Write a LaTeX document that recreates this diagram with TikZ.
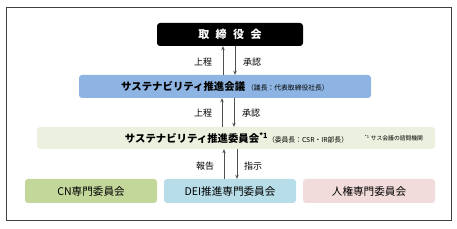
\documentclass[tikz,border=0pt]{standalone}
\usepackage{fontspec}
\setmainfont{Noto Sans CJK JP}
\usetikzlibrary{arrows.meta}
\definecolor{boardc}{RGB}{0,0,0}
\definecolor{bluec}{RGB}{141,180,226}
\definecolor{lgreenc}{RGB}{235,241,222}
\definecolor{cnc}{RGB}{196,215,155}
\definecolor{deic}{RGB}{183,221,232}
\definecolor{jinc}{RGB}{242,220,219}
\definecolor{framec}{RGB}{64,64,64}
\definecolor{arrc}{RGB}{80,80,80}
\tikzset{
  box/.style={rounded corners=3pt, inner sep=0pt, align=center},
  conn/.style={draw=arrc, line width=0.9pt, -{Stealth[length=4pt,width=3.5pt]}},
  lab/.style={font=\fontsize{9}{9}\selectfont, inner sep=0pt},
}
\begin{document}
\begin{tikzpicture}[x=1pt,y=-1pt]
\useasboundingbox (0,0) rectangle (457,229);
\node[draw=framec, line width=1.3pt, minimum width=445pt, minimum height=213pt, inner sep=0pt] (frame) at (229,114) {};
% boxes
\node[box, fill=boardc, text=white, minimum width=146pt, minimum height=23pt, font=\fontsize{11}{11}\selectfont\bfseries] (board) at (230,34.5) {取\hspace{6.5pt}締\hspace{6.5pt}役\hspace{6.5pt}会};
\node[box, fill=bluec, minimum width=292pt, minimum height=23pt] (blue) at (225,86.5)
  {{\fontsize{10.4}{10.4}\selectfont\bfseries サステナビリティ推進会議}\hspace{2pt}{\fontsize{6.8}{6.8}\selectfont （議長：代表取締役社長）}};
\node[box, fill=lgreenc, minimum width=398pt, minimum height=22pt] (green) at (236,138) {};
\node[inner sep=0pt] (gtext) at (236.5,138)
  {{\fontsize{10.4}{10.4}\selectfont\bfseries サステナビリティ推進委員会\textsuperscript{*1}}{\fontsize{6.8}{6.8}\selectfont （委員長：CSR・IR部長）}};
\node[inner sep=0pt, font=\fontsize{5.8}{5.8}\selectfont] (foot) at (394,138) {\textsuperscript{*1} サス会議の諮問機関};
\node[box, fill=cnc, minimum width=132pt, minimum height=24pt, font=\fontsize{10.6}{10.6}\selectfont] (cn) at (91,191) {CN専門委員会};
\node[box, fill=deic, minimum width=132pt, minimum height=24pt, font=\fontsize{10.6}{10.6}\selectfont] (dei) at (230,191) {DEI推進専門委員会};
\node[box, fill=jinc, minimum width=132pt, minimum height=24pt, font=\fontsize{10.6}{10.6}\selectfont] (jin) at (369,191) {人権専門委員会};
% arrows
\draw[conn] ([xshift=-2pt]blue.north) -- ([xshift=-2pt]blue.north |- board.south);
\draw[conn] ([xshift=10pt]blue.north |- board.south) -- ([xshift=10pt]blue.north);
\node[lab] (l1) at (203,62) {上程};
\node[lab] (l2) at (252,62) {承認};
\draw[conn] ([xshift=-3pt]blue.south |- green.north) -- ([xshift=-3pt]blue.south);
\draw[conn] ([xshift=9pt]blue.south) -- ([xshift=9pt]blue.south |- green.north);
\node[lab] (l3) at (203,113) {上程};
\node[lab] (l4) at (251,113) {承認};
\draw[conn] ([xshift=-6pt]dei.north) -- ([xshift=-6pt]dei.north |- green.south);
\draw[conn] ([xshift=7pt]dei.north |- green.south) -- ([xshift=7pt]dei.north);
\node[lab] (l5) at (205,166) {報告};
\node[lab] (l6) at (253,166) {指示};
\end{tikzpicture}
\end{document}
